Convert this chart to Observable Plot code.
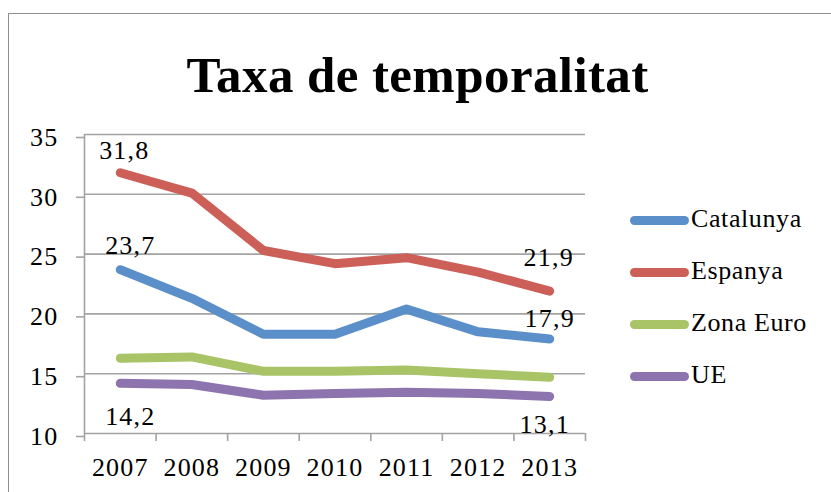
<!DOCTYPE html>
<html>
<head>
<meta charset="utf-8">
<script src="https://cdn.jsdelivr.net/npm/d3@7"></script>
<script src="https://cdn.jsdelivr.net/npm/@observablehq/plot@0.6"></script>
<style>
  html, body { margin: 0; padding: 0; background: #fff; overflow: hidden; }
  #wrap { position: relative; width: 831px; height: 492px; overflow: hidden; font-family: "Liberation Serif", serif; }
  #border { position: absolute; left: 8px; top: 13px; width: 900px; height: 600px; border-left: 1.5px solid #8e8e8e; border-top: 1.5px solid #8e8e8e; }
  #chart { position: absolute; left: 0; top: 0; }
  #title { position: absolute; left: 0; width: 831px; top: 45px; text-align: center; font-family: "Liberation Serif", serif; font-weight: bold; font-size: 51px; letter-spacing: 0.4px; line-height: 60px; color: #000; padding-left: 2px; }
  .leg { position: absolute; left: 630px; height: 30px; }
  .sw { position: absolute; left: 0; top: 10px; width: 59px; height: 9px; border-radius: 5px; }
  .lt { position: absolute; left: 61px; top: -2px; font-family: "Liberation Serif", serif; font-size: 26px; letter-spacing: 0.6px; line-height: 30px; white-space: nowrap; color: #000; }
</style>
</head>
<body>
<div id="wrap">
  <div id="border"></div>
  <div id="chart"></div>
  <div id="title">Taxa de temporalitat</div>
  <div id="legend"></div>
</div>
<script>
const years = ["2007", "2008", "2009", "2010", "2011", "2012", "2013"];
const seriesNames = ["Catalunya", "Espanya", "Zona Euro", "UE"];
const colors = ["#5B8FC9", "#CC5F58", "#A8C467", "#8D74AF"];
const catalunya = [23.7, 21.3, 18.3, 18.3, 20.4, 18.5, 17.9];
const espanya = [31.8, 30.1, 25.3, 24.2, 24.7, 23.5, 21.9];
const zonaEuro = [16.3, 16.4, 15.2, 15.2, 15.3, 15.0, 14.7];
const ue = [14.2, 14.1, 13.2, 13.35, 13.45, 13.35, 13.1];
const yTicks = [10, 15, 20, 25, 30, 35];

// labelled points: series, year index, shown text
const labelSeries = ["Espanya", "Catalunya", "UE", "Espanya", "Catalunya", "UE"];
const labelYearIdx = [0, 0, 0, 6, 6, 6];
const labelText = ["31,8", "23,7", "14,2", "21,9", "17,9", "13,1"];
const labelDx = [4, 10, 10, -1, 0, -5];
const labelDy = [-22, -24, 33, -34, -20, 28];

const valuesBySeries = {"Catalunya": catalunya, "Espanya": espanya, "Zona Euro": zonaEuro, "UE": ue};
const data = seriesNames.flatMap(s => valuesBySeries[s].map((v, i) => ({series: s, i, value: v})));
const labels = labelText.map((t, k) => ({
  text: t, i: labelYearIdx[k], value: valuesBySeries[labelSeries[k]][labelYearIdx[k]], dx: labelDx[k], dy: labelDy[k]
}));

const font = "'Liberation Serif', serif";
const gridColor = "#a3a3a3";

const marks = [
  Plot.gridY(yTicks, {stroke: gridColor, strokeOpacity: 1, strokeWidth: 1.6}),
  Plot.axisY(yTicks, {tickSize: 8, tickPadding: 18, fontSize: 26, fontFamily: font, stroke: gridColor, strokeWidth: 1.6, fill: "#000", label: null, dy: 3}),
  Plot.ruleX([-0.5], {y1: 10, y2: 35, stroke: gridColor, strokeWidth: 1.6}),
  Plot.axisX(d3.range(8).map(k => k - 0.5), {tickSize: 8, tickFormat: () => "", stroke: gridColor, strokeWidth: 1.6, label: null}),
  Plot.axisX(d3.range(7), {tickSize: 0, tickPadding: 24, tickFormat: i => years[i], fontSize: 26, fontFamily: font, fill: "#000", label: null}),
  Plot.line(data, {x: "i", y: "value", z: "series", stroke: "series", strokeWidth: 9, strokeLinecap: "round", strokeLinejoin: "round"})
];
labels.forEach(l => {
  marks.push(Plot.text([l], {x: "i", y: "value", text: "text", dx: l.dx, dy: l.dy, fontSize: 26, fontFamily: font, fill: "#000"}));
});

const chart = Plot.plot({
  width: 831,
  height: 492,
  marginLeft: 84,
  marginRight: 246,
  marginTop: 134,
  marginBottom: 59,
  style: {background: "transparent", fontFamily: font, overflow: "visible", letterSpacing: "1.2px"},
  x: {type: "linear", domain: [-0.5, 6.5], axis: null},
  y: {domain: [10, 35], axis: null},
  color: {domain: seriesNames, range: colors},
  marks
});
document.getElementById("chart").appendChild(chart);

const legend = document.getElementById("legend");
const legendTop = [206, 258, 310, 362];
seriesNames.forEach((s, k) => {
  const row = document.createElement("div");
  row.className = "leg";
  row.style.top = legendTop[k] + "px";
  const sw = document.createElement("div");
  sw.className = "sw";
  sw.style.background = colors[k];
  const t = document.createElement("div");
  t.className = "lt";
  t.textContent = s;
  row.appendChild(sw);
  row.appendChild(t);
  legend.appendChild(row);
});
</script>
</body>
</html>
